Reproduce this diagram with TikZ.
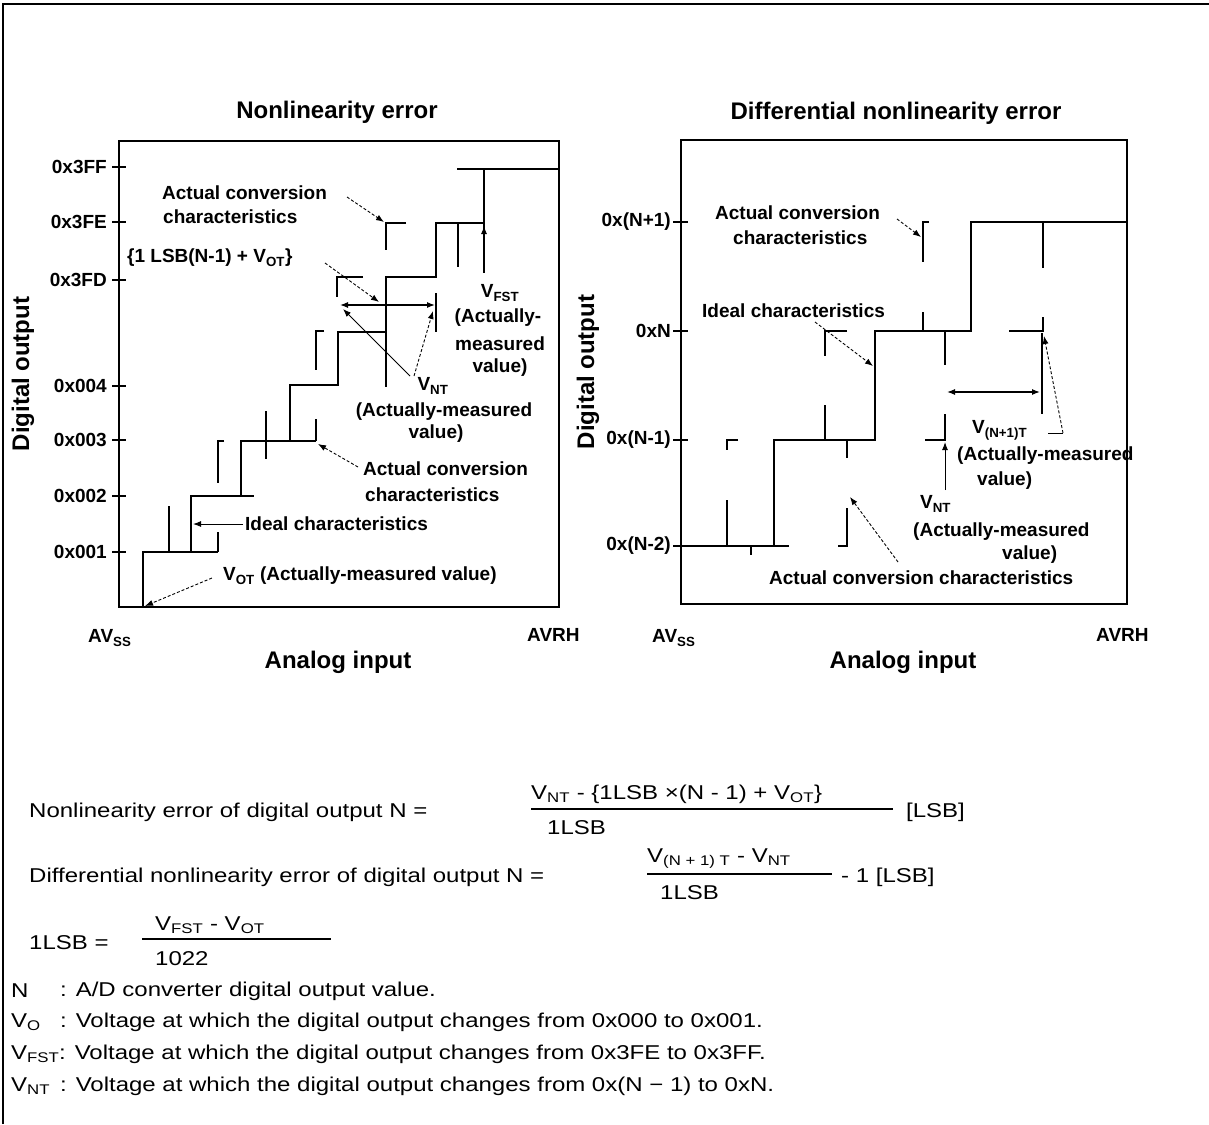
\documentclass[tikz,border=0pt]{standalone}
\usepackage{fontspec}
\setmainfont{Liberation Sans}
\newfontfamily\ftxt{Liberation Sans}[FakeStretch=1.2]
\usetikzlibrary{arrows.meta}
\tikzset{
  frm/.style={line width=1.5pt},
  ln/.style={line width=1.4pt},
  outer/.style={line width=2pt},
  bar/.style={line width=1.3pt},
  lead/.style={line width=0.9pt, dash pattern=on 3pt off 2pt, -{Latex[length=8pt,width=6pt]}},
  solidlead/.style={line width=1pt, -{Latex[length=8pt,width=6pt]}},
  dbl/.style={line width=1.2pt, {Latex[length=8pt,width=6pt]}-{Latex[length=8pt,width=6pt]}},
  lbl/.style={font=\fontsize{19}{21}\selectfont\bfseries, inner sep=0pt},
  tck/.style={font=\fontsize{19}{21}\selectfont\bfseries, inner sep=0pt, anchor=east},
  ttl/.style={font=\fontsize{24}{26}\selectfont\bfseries, inner sep=0pt},
  txt/.style={font=\ftxt\fontsize{20}{22}\selectfont, inner sep=0pt, anchor=west},
}
\begin{document}
\begin{tikzpicture}[x=1pt,y=-1pt]
\useasboundingbox (0,0) rectangle (1209,1124);
% outer frame
\draw[outer] (3,1124) -- (3,4) -- (1209,4);

% ===================== LEFT CHART =====================
\node[ttl] (t1) at (337,112) {Nonlinearity error};
\draw[frm] (119,141) rectangle (559,607);
\foreach \yy/\tx [count=\i] in {167/0x3FF,222/0x3FE,280/0x3FD,386/0x004,440/0x003,496/0x002,552/0x001}{
  \draw[ln] (112,\yy) -- (126,\yy);
  \node[tck] (lt\i) at (107,\yy) {\tx};
}
\node[ttl,rotate=90] (ya1) at (23,374) {Digital output};
\node[ttl] (xa1) at (338,662) {Analog input};
\node[lbl,anchor=west] (avss1) at (88,638) {AV\textsubscript{SS}};
\node[lbl,anchor=west] (avrh1) at (527,635) {AVRH};

% ideal staircase
\draw[ln] (143,607) -- (143,552) -- (191,552) -- (191,496) -- (241,496) -- (241,441)
  -- (290,441) -- (290,385) -- (338,385) -- (338,332) -- (386,332) -- (386,277)
  -- (436,277) -- (436,223) -- (484,223) -- (484,169) -- (559,169);
\draw[ln] (191,552) -- (218,552);
\draw[ln] (241,496) -- (254,496);
\draw[ln] (290,441) -- (316,441);
\draw[ln] (457,169) -- (484,169);
% actual conversion segments
\draw[ln] (169,506) -- (169,552);
\draw[ln] (218,532) -- (218,552);
\draw[ln] (224,441) -- (218,441) -- (218,483);
\draw[ln] (266,411) -- (266,459);
\draw[ln] (316,419) -- (316,441);
\draw[ln] (324,331) -- (316,331) -- (316,370);
\draw[ln] (363,277) -- (337,277) -- (337,297);
\draw[ln] (406,223) -- (386,223) -- (386,250);
\draw[ln] (458,222) -- (458,267);
\draw[ln] (436,293) -- (436,332);
\draw[ln] (484,223) -- (484,273);
\draw[ln] (386,332) -- (386,387);

% labels
\node[lbl,anchor=west] (ac1a) at (162,193) {Actual conversion};
\node[lbl,anchor=west] (ac1b) at (163,217) {characteristics};
\coordinate (ac1s) at (347,197); \coordinate (ac1e) at (384,222);
\draw[lead] (ac1s) -- (ac1e);

\node[lbl,anchor=west] (lsb) at (127,258) {\{1 LSB(N-1) + V\textsubscript{OT}\}};
\coordinate (lsbs) at (325,263); \coordinate (lsbe) at (379,302);
\draw[lead] (lsbs) -- (lsbe);

\coordinate (dl) at (340,305); \coordinate (dr) at (435,305);
\draw[dbl] (dl) -- (dr);

\node[lbl] (vfst) at (500,293) {V\textsubscript{FST}};
\node[lbl] (vfst2) at (498,318) {(Actually-};
\node[lbl] (vfst3) at (500,344) {measured};
\node[lbl] (vfst4) at (500,368) {value)};
\coordinate (fsts) at (484,248); \coordinate (fste) at (484,226);
\draw[solidlead] (fsts) -- (fste);

\node[lbl] (vnt1) at (433,386) {V\textsubscript{NT}};
\node[lbl] (vnt1b) at (444,412) {(Actually-measured};
\node[lbl] (vnt1c) at (436,434) {value)};
\coordinate (vnts) at (410,376); \coordinate (vnte1) at (343,309);
\coordinate (vnts2) at (414,376); \coordinate (vnte2) at (433,311);
\draw[solidlead] (vnts) -- (vnte1);
\draw[lead] (vnts2) -- (vnte2);

\node[lbl,anchor=west] (ac2a) at (363,469) {Actual conversion};
\node[lbl,anchor=west] (ac2b) at (365,495) {characteristics};
\coordinate (ac2s) at (358,467); \coordinate (ac2e) at (318,444);
\draw[lead] (ac2s) -- (ac2e);

\node[lbl,anchor=west] (idl) at (245,524) {Ideal characteristics};
\coordinate (idls) at (243,524); \coordinate (idle) at (193,524);
\draw[solidlead] (idls) -- (idle);

\node[lbl,anchor=west] (vot) at (223,576) {V\textsubscript{OT} (Actually-measured value)};
\coordinate (vots) at (212,578); \coordinate (vote) at (145,606);
\draw[lead] (vots) -- (vote);

% ===================== RIGHT CHART =====================
\node[ttl] (t2) at (896,113) {Differential nonlinearity error};
\draw[frm] (681,140) rectangle (1127,604);
\foreach \yy/\tx [count=\i] in {222/0x(N+1),331/0xN,440/0x(N-1),546/0x(N-2)}{
  \draw[ln] (673,\yy) -- (688,\yy);
  \node[tck] (rt\i) at (671,\yy) {\tx};
}
\node[ttl,rotate=90] (ya2) at (588,372) {Digital output};
\node[ttl] (xa2) at (903,662) {Analog input};
\node[lbl,anchor=west] (avss2) at (652,638) {AV\textsubscript{SS}};
\node[lbl,anchor=west] (avrh2) at (1096,635) {AVRH};

% ideal staircase
\draw[ln] (681,546) -- (789,546);
\draw[ln] (774,546) -- (774,440) -- (875,440) -- (875,331) -- (971,331) -- (971,222) -- (1127,222);
% actual segments
\draw[ln] (727,500) -- (727,546);
\draw[ln] (751,546) -- (751,555);
\draw[ln] (738,440) -- (727,440) -- (727,450);
\draw[ln] (825,405) -- (825,440);
\draw[ln] (847,440) -- (847,458);
\draw[ln] (838,546) -- (847,546) -- (847,508);
\draw[ln] (847,331) -- (825,331) -- (825,356);
\draw[ln] (923,312) -- (923,331);
\draw[ln] (929,222) -- (923,222) -- (923,262);
\draw[ln] (945,331) -- (945,365);
\draw[ln] (925,440) -- (945,440) -- (945,414);
\draw[ln] (1043,222) -- (1043,268);
\draw[ln] (1009,331) -- (1043,331) -- (1043,317);
\draw[ln] (1042,333) -- (1042,414);

% labels
\node[lbl,anchor=west] (rac1a) at (715,213) {Actual conversion};
\node[lbl,anchor=west] (rac1b) at (733,238) {characteristics};
\coordinate (rac1s) at (897,219); \coordinate (rac1e) at (921,237);
\draw[lead] (rac1s) -- (rac1e);

\node[lbl,anchor=west] (ridl) at (702,311) {Ideal characteristics};
\coordinate (ridls) at (815,322); \coordinate (ridle) at (873,366);
\draw[lead] (ridls) -- (ridle);

\coordinate (rdl) at (947,392); \coordinate (rdr) at (1040,392);
\draw[dbl] (rdl) -- (rdr);

\node[lbl,anchor=west] (vn1) at (972,430) {V\textsubscript{(N+1)T}};
\node[lbl,anchor=west] (vn1b) at (957,456) {(Actually-measured};
\node[lbl,anchor=west] (vn1c) at (977,481) {value)};
\coordinate (vn1k) at (1048,433); \coordinate (vn1s) at (1063,433); \coordinate (vn1e) at (1044,336);
\draw[line width=0.9pt] (vn1k) -- (vn1s);
\draw[lead] (vn1s) -- (vn1e);

\node[lbl,anchor=west] (rvnt) at (920,504) {V\textsubscript{NT}};
\node[lbl,anchor=west] (rvntb) at (913,532) {(Actually-measured};
\node[lbl,anchor=west] (rvntc) at (1002,555) {value)};
\coordinate (rvnts) at (945,490); \coordinate (rvnte) at (945,442);
\draw[solidlead] (rvnts) -- (rvnte);

\node[lbl,anchor=west] (rac2) at (769,578) {Actual conversion characteristics};
\coordinate (rac2s) at (898,562); \coordinate (rac2e) at (850,497);
\draw[lead] (rac2s) -- (rac2e);

% ===================== FORMULAS =====================
\node[txt] (f1) at (29,812) {Nonlinearity error of digital output N =};
\node[txt] (f1n) at (531,794) {V\textsubscript{NT} - \{1LSB ×(N - 1) + V\textsubscript{OT}\}};
\coordinate (b1l) at (531,809); \coordinate (b1r) at (893,809);
\draw[bar] (b1l) -- (b1r);
\node[txt] (f1d) at (547,828) {1LSB};
\node[txt] (f1u) at (906,812) {[LSB]};

\node[txt] (f2) at (29,877) {Differential nonlinearity error of digital output N =};
\node[txt] (f2n) at (647,859) {V\textsubscript{(N + 1) T} - V\textsubscript{NT}};
\coordinate (b2l) at (647,874); \coordinate (b2r) at (832,874);
\draw[bar] (b2l) -- (b2r);
\node[txt] (f2d) at (660,893) {1LSB};
\node[txt] (f2u) at (841,877) {- 1 [LSB]};

\node[txt] (f3) at (29,943) {1LSB =};
\node[txt] (f3n) at (155,925) {V\textsubscript{FST} - V\textsubscript{OT}};
\coordinate (b3l) at (142,939); \coordinate (b3r) at (331,939);
\draw[bar] (b3l) -- (b3r);
\node[txt] (f3d) at (155,959) {1022};

\node[txt] (g1) at (11,991) {N};
\node[txt] (g1t) at (60,991) {: A/D converter digital output value.};
\node[txt] (g2) at (11,1022) {V\textsubscript{O}};
\node[txt] (g2t) at (60,1022) {: Voltage at which the digital output changes from 0x000 to 0x001.};
\node[txt] (g3) at (11,1054) {V\textsubscript{FST}};
\node[txt] (g3t) at (59,1054) {: Voltage at which the digital output changes from 0x3FE to 0x3FF.};
\node[txt] (g4) at (11,1086) {V\textsubscript{NT}};
\node[txt] (g4t) at (60,1086) {: Voltage at which the digital output changes from 0x(N − 1) to 0xN.};
\end{tikzpicture}
\end{document}
